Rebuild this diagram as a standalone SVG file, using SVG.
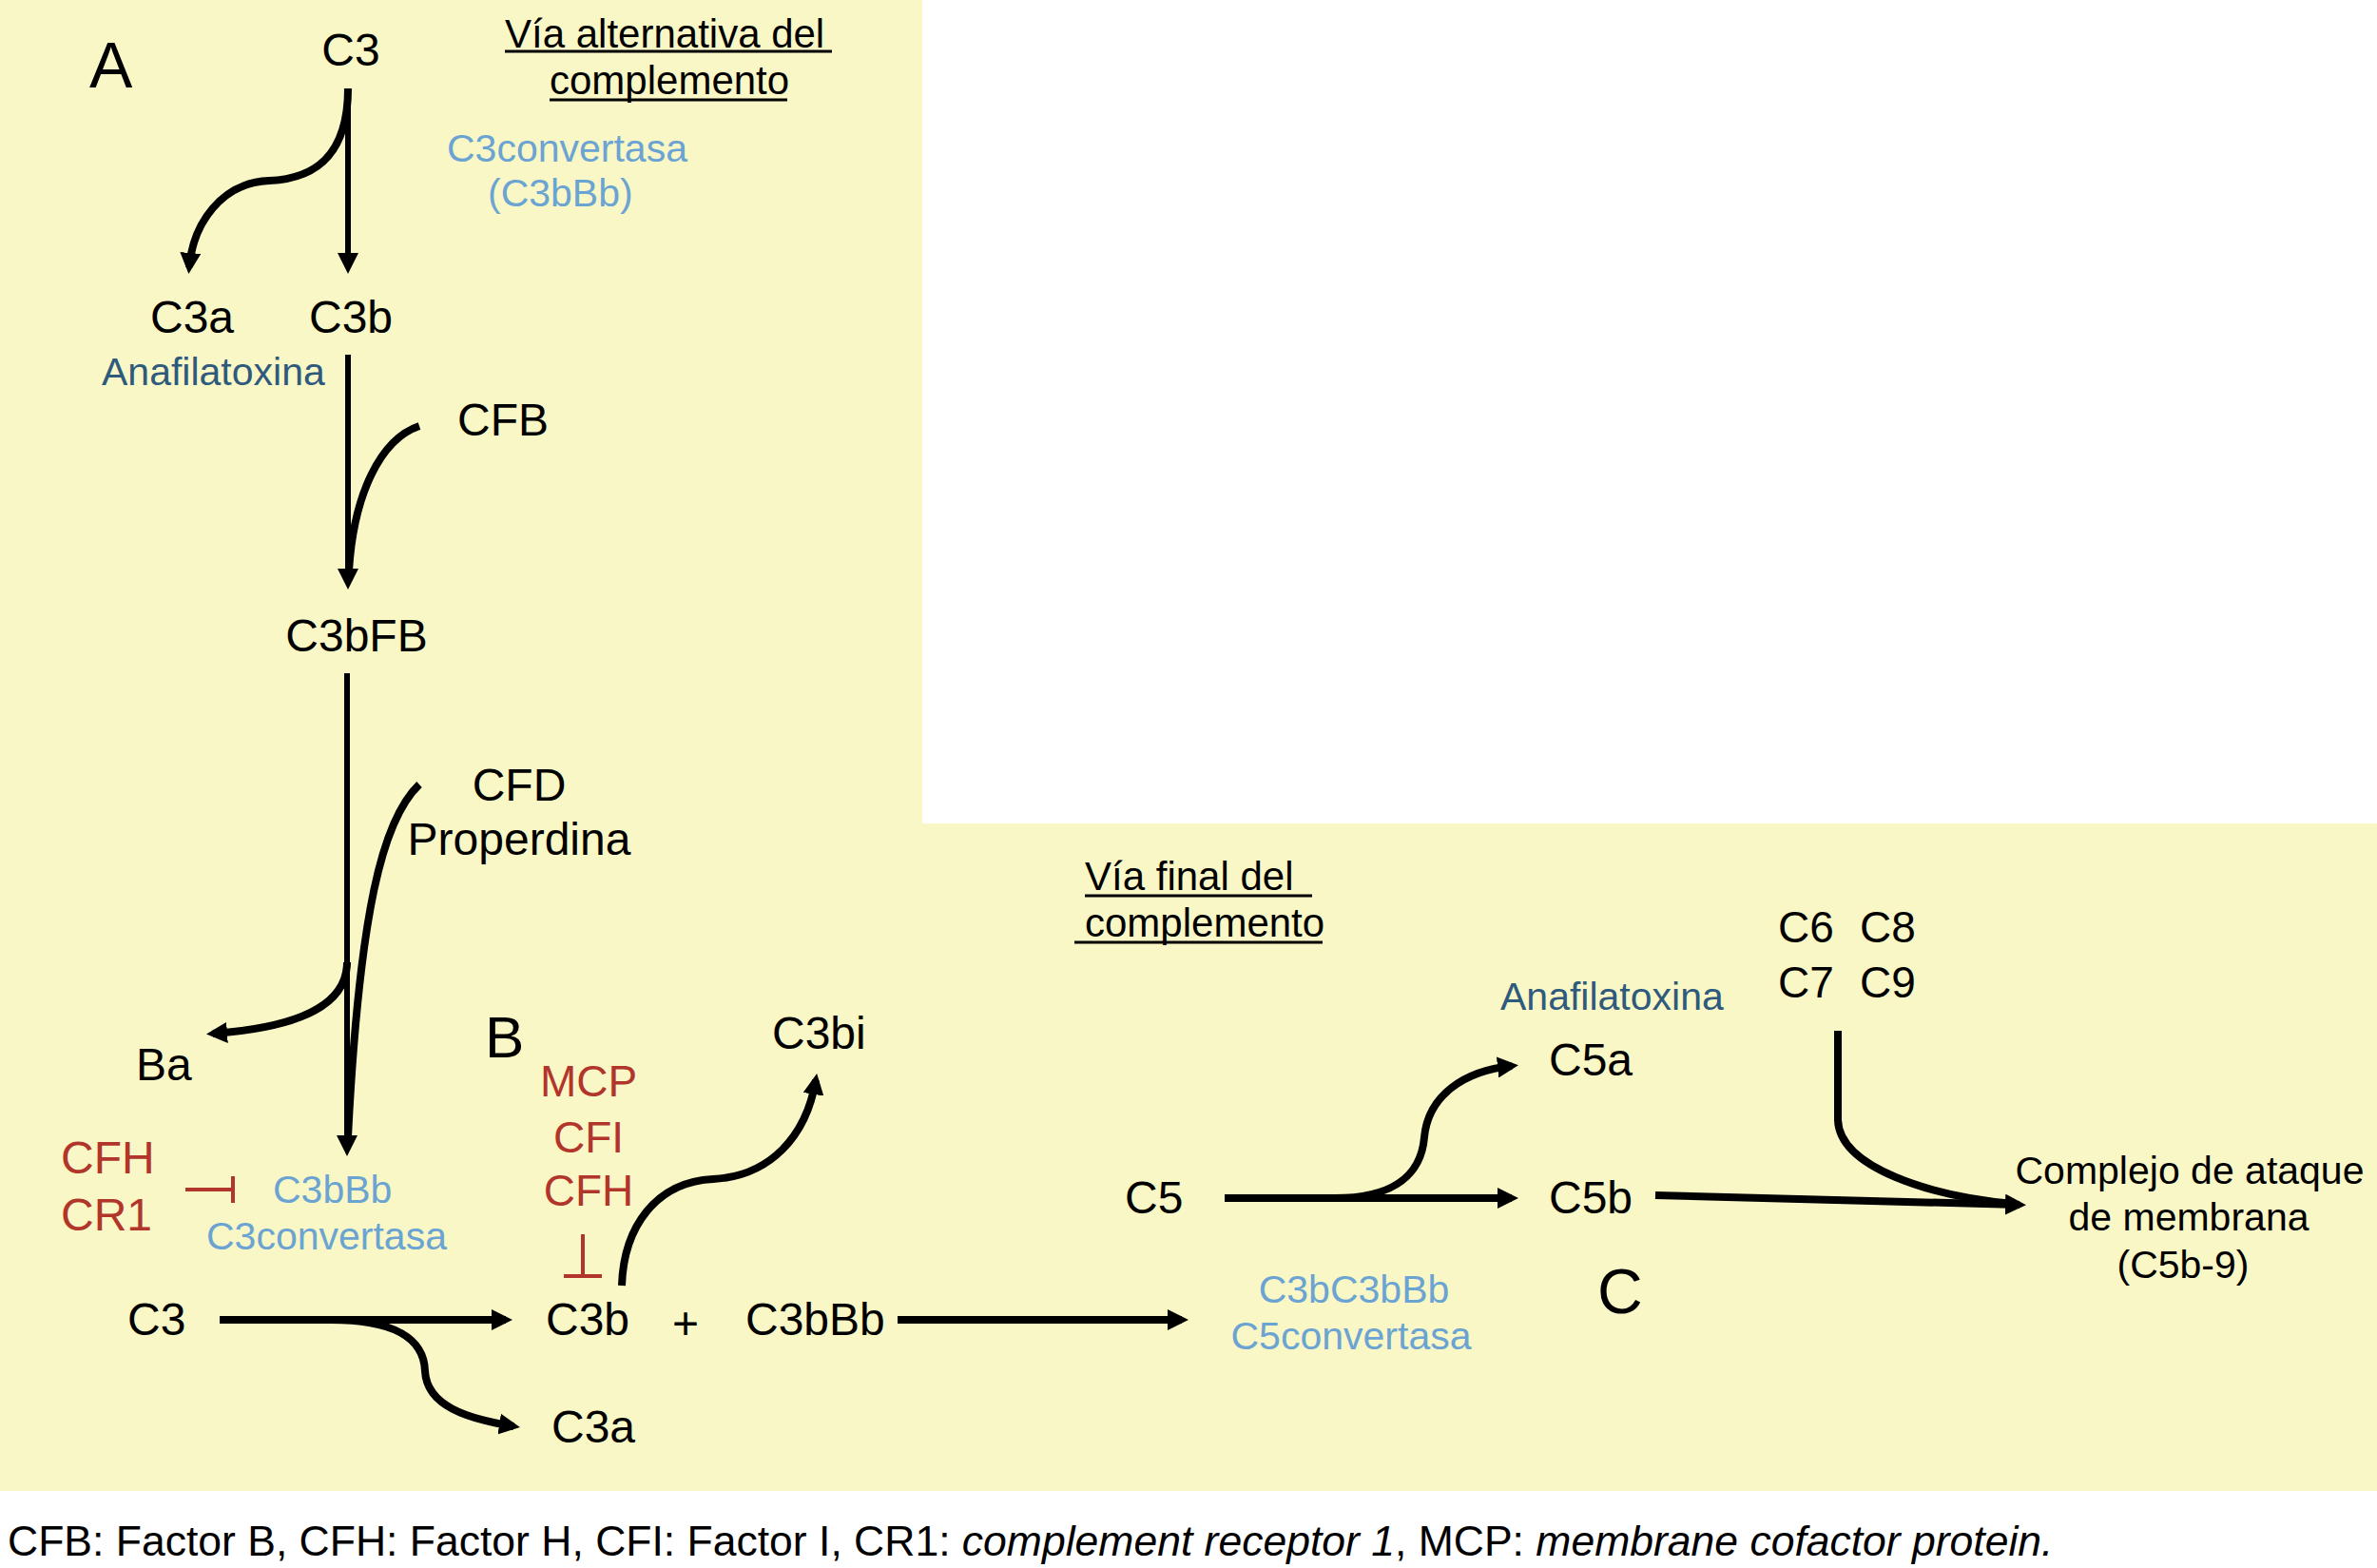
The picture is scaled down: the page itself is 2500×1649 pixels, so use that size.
<svg xmlns="http://www.w3.org/2000/svg" width="2500" height="1649" viewBox="0 0 2500 1649">
<style>
text{font-family:"Liberation Sans",Arial,Helvetica,sans-serif;fill:#000}
.n{font-size:48px}
.h{font-size:42px}
.s{font-size:41px}
.lb{fill:#6BA4D2}
.db{fill:#2E5A7D}
.rd{fill:#B2352B}
.big{font-size:66px}
.ln{fill:none;stroke:#000;stroke-width:6}
.cv{fill:none;stroke:#000;stroke-width:8}
.ul{stroke:#000;stroke-width:3}
.inh{fill:none;stroke:#B2352B;stroke-width:4}
</style>
<defs>
<marker id="ah" viewBox="0 0 22 22" refX="15" refY="11" markerWidth="22" markerHeight="22" markerUnits="userSpaceOnUse" orient="auto">
<path d="M0,0 L22,11 L0,22 Z" fill="#000"/>
</marker>
</defs>
<rect x="0" y="0" width="2500" height="1649" fill="#fff"/>
<path d="M0,0 H970 V866 H2500 V1568 H0 Z" fill="#FAF7C6"/>

<g id="connectors">
<path class="ln" d="M366,93 L366,281" marker-end="url(#ah)"/>
<path class="cv" d="M366,93 C366,165 330,188 283,190 C233,192 203,235 199,281" marker-end="url(#ah)"/>
<path class="ln" d="M366,373 L366,613" marker-end="url(#ah)"/>
<path class="cv" d="M441,448 C400,462 372,520 367,600"/>
<path class="ln" d="M365,708 L365,1209" marker-end="url(#ah)"/>
<path class="cv" d="M441,825 C402,862 378,960 366,1195"/>
<path class="cv" d="M365,1012 C365,1055 320,1080 224,1087" marker-end="url(#ah)"/>
<path class="cv" d="M231,1388 L532,1388" marker-end="url(#ah)"/>
<path class="cv" d="M348,1388 C415,1388 446,1408 447,1442 C449,1478 490,1492 540,1500" marker-end="url(#ah)"/>
<path class="cv" d="M654,1352 C656,1290 690,1243 750,1240 C810,1237 848,1195 858,1136" marker-end="url(#ah)"/>
<path class="cv" d="M944,1388 L1243,1388" marker-end="url(#ah)"/>
<path class="cv" d="M1288,1260 L1590,1260" marker-end="url(#ah)"/>
<path class="cv" d="M1400,1260 C1470,1261 1495,1232 1498,1196 C1502,1152 1540,1126 1590,1121" marker-end="url(#ah)"/>
<path class="cv" d="M1741,1257 L2124,1267" marker-end="url(#ah)"/>
<path class="cv" d="M1933,1084 L1933,1178 C1935,1228 2030,1258 2118,1266"/>
<path class="inh" d="M195,1251 L245,1251 M245,1237 L245,1265"/>
<path class="inh" d="M613,1298 L613,1342 M593,1342 L633,1342"/>
</g>

<g id="label-A"><text class="big" x="94" y="92" style="font-size:68px">A</text></g>
<g id="label-B"><text class="big" x="510" y="1112" style="font-size:62px">B</text></g>
<g id="label-C"><text class="big" x="1680" y="1381">C</text></g>

<g id="title-alternativa">
<text class="h" x="531" y="50">Vía alternativa del</text>
<text class="h" x="578" y="99">complemento</text>
<line class="ul" x1="531" y1="54" x2="875" y2="54"/>
<line class="ul" x1="578" y1="105" x2="828" y2="105"/>
</g>
<g id="title-final">
<text class="h" x="1141" y="936">Vía final del</text>
<text class="h" x="1141" y="985">complemento</text>
<line class="ul" x1="1141" y1="942" x2="1380" y2="942"/>
<line class="ul" x1="1130" y1="991" x2="1391" y2="991"/>
</g>

<g id="node-C3-top"><text class="n" x="369" y="69" text-anchor="middle">C3</text></g>
<g id="note-c3convertasa-top">
<text class="s lb" x="470" y="170">C3convertasa</text>
<text class="s lb" x="513" y="217">(C3bBb)</text>
</g>
<g id="node-C3a-top"><text class="n" x="158" y="350">C3a</text></g>
<g id="node-C3b-top"><text class="n" x="325" y="350">C3b</text></g>
<g id="note-anafilatoxina-1"><text class="s db" x="107" y="405">Anafilatoxina</text></g>
<g id="node-CFB"><text class="n" x="481" y="458">CFB</text></g>
<g id="node-C3bFB"><text class="n" x="375" y="685" text-anchor="middle">C3bFB</text></g>
<g id="node-CFD">
<text class="n" x="546" y="842" text-anchor="middle">CFD</text>
<text class="n" x="546" y="899" text-anchor="middle">Properdina</text>
</g>
<g id="node-Ba"><text class="n" x="143" y="1136">Ba</text></g>
<g id="node-CFH-CR1">
<text class="n rd" x="64" y="1234">CFH</text>
<text class="n rd" x="64" y="1294">CR1</text>
</g>
<g id="node-C3bBb-conv">
<text class="s lb" x="287" y="1265">C3bBb</text>
<text class="s lb" x="217" y="1314">C3convertasa</text>
</g>
<g id="node-regulators">
<text class="n rd" x="619" y="1153" text-anchor="middle" style="font-size:46px">MCP</text>
<text class="n rd" x="619" y="1212" text-anchor="middle" style="font-size:46px">CFI</text>
<text class="n rd" x="619" y="1268" text-anchor="middle" style="font-size:46px">CFH</text>
</g>
<g id="node-C3bi"><text class="n" x="812" y="1103">C3bi</text></g>
<g id="node-C3-bottom"><text class="n" x="134" y="1404">C3</text></g>
<g id="node-C3b-bottom"><text class="n" x="574" y="1404">C3b</text></g>
<g id="plus"><text class="n" x="721" y="1408" text-anchor="middle">+</text></g>
<g id="node-C3bBb-bottom"><text class="n" x="784" y="1404">C3bBb</text></g>
<g id="node-C3a-bottom"><text class="n" x="580" y="1517">C3a</text></g>
<g id="node-C5conv">
<text class="s lb" x="1424" y="1370" text-anchor="middle">C3bC3bBb</text>
<text class="s lb" x="1421" y="1419" text-anchor="middle">C5convertasa</text>
</g>
<g id="node-C5"><text class="n" x="1183" y="1276">C5</text></g>
<g id="note-anafilatoxina-2"><text class="s db" x="1578" y="1062">Anafilatoxina</text></g>
<g id="node-C5a"><text class="n" x="1629" y="1131">C5a</text></g>
<g id="node-C5b"><text class="n" x="1629" y="1276">C5b</text></g>
<g id="node-C6-C9">
<text class="n" x="1870" y="991" style="font-size:46px">C6</text>
<text class="n" x="1956" y="991" style="font-size:46px">C8</text>
<text class="n" x="1870" y="1049" style="font-size:46px">C7</text>
<text class="n" x="1956" y="1049" style="font-size:46px">C9</text>
</g>
<g id="node-MAC">
<text class="s" x="2303" y="1245" text-anchor="middle">Complejo de ataque</text>
<text class="s" x="2302" y="1294" text-anchor="middle">de membrana</text>
<text class="s" x="2296" y="1344" text-anchor="middle">(C5b-9)</text>
</g>
<g id="footer">
<text x="8" y="1636" style="font-size:44.5px">CFB: Factor B, CFH: Factor H, CFI: Factor I, CR1: <tspan font-style="italic">complement receptor 1</tspan>, MCP: <tspan font-style="italic">membrane cofactor protein.</tspan></text>
</g>
</svg>
